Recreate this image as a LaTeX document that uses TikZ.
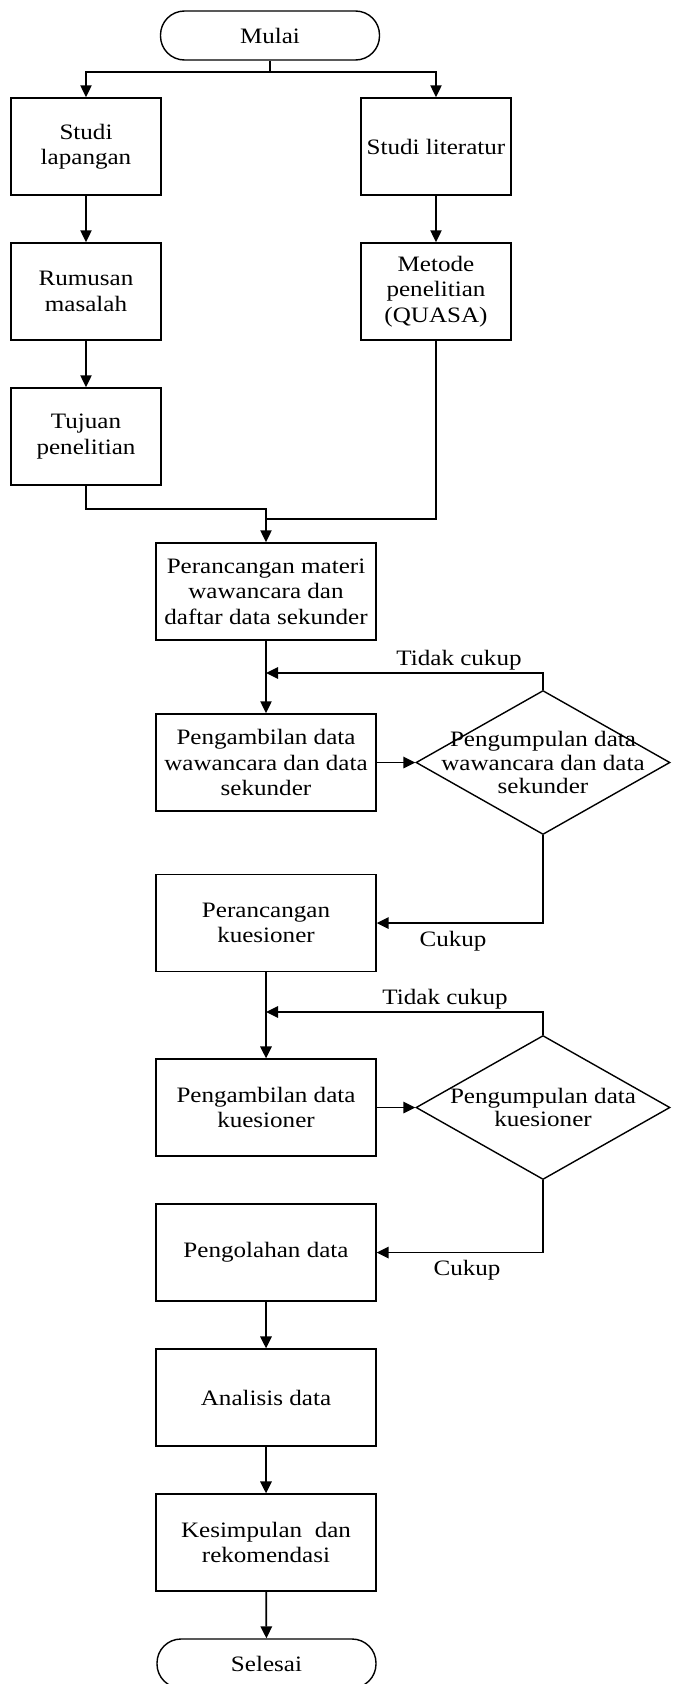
\documentclass[tikz,border=0pt]{standalone}
\usepackage{fontspec}
\setmainfont{Liberation Serif}[FakeStretch=1.14]
\usetikzlibrary{shapes.geometric,arrows.meta}
\begin{document}
\begin{tikzpicture}[x=1pt,y=-1pt,
  font=\fontsize{22}{25.5}\selectfont,
  box/.style={draw, line width=1.4pt, minimum width=150pt, minimum height=97pt, align=center, inner sep=2pt},
  wbox/.style={box, minimum width=220pt},
  term/.style={draw, line width=1.4pt, rounded corners=24pt, minimum width=219pt, minimum height=49pt},
  dec/.style={draw, diamond, line width=1.4pt, minimum width=254pt, minimum height=144pt, inner sep=0pt},
  dtxt/.style={align=center, inner sep=0pt, font=\fontsize{22}{23.5}\selectfont},
  conn/.style={line width=1.7pt},
  tconn/.style={line width=2.2pt},
  arr/.style={conn, -{Triangle[length=12pt,width=11.5pt]}},
  tarr/.style={tconn, -{Triangle[length=12pt,width=11pt]}},
  lbl/.style={inner sep=0pt}
]
\useasboundingbox (0,0) rectangle (675,1684);

% nodes
\node[term] (mulai) at (270,35.5) {Mulai};
\node[box] (sl) at (86,146.5) {Studi\\lapangan};
\node[box] (sr) at (436,146.5) {Studi literatur};
\node[box] (rm) at (86,291.5) {Rumusan\\masalah};
\node[box] (mp) at (436,291.5) {Metode\\penelitian\\(QUASA)};
\node[box] (tp) at (86,436.5) {Tujuan\\penelitian};
\node[wbox] (pm) at (266,591.5) {Perancangan materi\\wawancara dan\\daftar data sekunder};
\node[wbox] (pw) at (266,762.5) {Pengambilan data\\wawancara dan data\\sekunder};
\node[dec] (d1) at (543,762.5) {};
\node[dtxt] (d1t) at (d1) {Pengumpulan data\\wawancara dan data\\sekunder};
\node[wbox] (pk) at (266,923) {Perancangan\\kuesioner};
\node[wbox] (pq) at (266,1107.5) {Pengambilan data\\kuesioner};
\node[dec] (d2) at (543,1107.5) {};
\node[dtxt] (d2t) at (d2) {Pengumpulan data\\kuesioner};
\node[wbox] (po) at (266,1252.5) {Pengolahan data};
\node[wbox] (ad) at (266,1397.5) {Analisis data};
\node[wbox] (kr) at (266,1542.5) {Kesimpulan\ \ dan\\rekomendasi};
\node[term] (selesai) at (266.5,1663.5) {Selesai};

% labels
\node[lbl] (l1) at (459,660) {Tidak cukup};
\node[lbl] (l2) at (453,941) {Cukup};
\node[lbl] (l3) at (445,999) {Tidak cukup};
\node[lbl] (l4) at (467,1270) {Cukup};

% connectors
\coordinate (j) at (270,72);
\draw[tconn] (mulai.south) -- (j);
\draw[tarr] (j) -| (sl.north);
\draw[tarr] (j) -| (sr.north);
\draw[tarr] (sl) -- (rm);
\draw[tarr] (rm) -- (tp);
\draw[tarr] (sr) -- (mp);
\coordinate (m1) at (266,509);
\coordinate (m2) at (266,519);
\draw[tarr] (tp.south) |- (m1) -- (pm.north);
\draw[tconn] (mp.south) |- (m2);
\draw[tarr] (pm) -- (pw);
\coordinate (t1) at (266,673);
\draw[arr] (d1.north) |- (t1);
\draw[arr] (pw.east) -- (d1.west);
\draw[arr] (d1.south) |- (pk.east);
\draw[arr] (pk) -- (pq);
\coordinate (t2) at (266,1012);
\draw[arr] (d2.north) |- (t2);
\draw[arr] (pq.east) -- (d2.west);
\draw[arr] (d2.south) |- (po.east);
\draw[arr] (po) -- (ad);
\draw[arr] (ad) -- (kr);
\draw[arr] (kr) -- (selesai);
\end{tikzpicture}
\end{document}
